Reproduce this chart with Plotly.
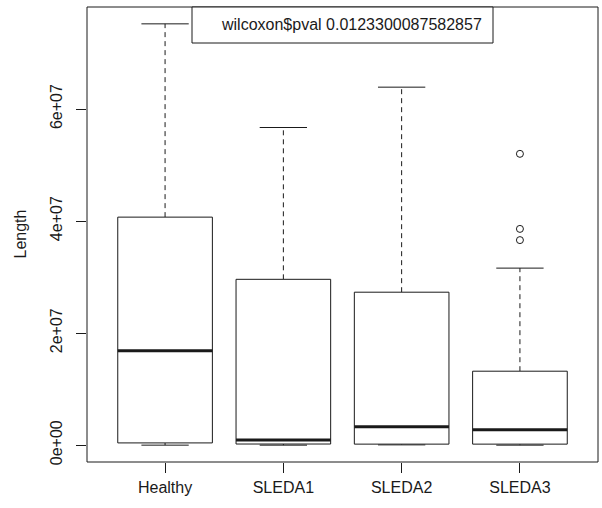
import plotly.graph_objects as go

# Summary statistics per group (Length)
categories = ["Healthy", "SLEDA1", "SLEDA2", "SLEDA3"]
lower_whisker = [0.0e6, 0.0e6, 0.05e6, 0.0e6]
q1 = [0.40e6, 0.20e6, 0.18e6, 0.18e6]
median = [16.85e6, 0.90e6, 3.27e6, 2.73e6]
q3 = [40.7e6, 29.6e6, 27.3e6, 13.2e6]
upper_whisker = [75.2e6, 56.7e6, 63.9e6, 31.6e6]
outlier_group = ["SLEDA3", "SLEDA3", "SLEDA3"]
outlier_values = [52.0e6, 38.6e6, 36.6e6]

y_tick_values = [0, 2e7, 4e7, 6e7]
y_tick_labels = ["0e+00", "2e+07", "4e+07", "6e+07"]
legend_text = "wilcoxon$pval 0.0123300087582857"

FONT = "Liberation Sans, Arial, sans-serif"
INK = "#1a1a1a"
HALF_BOX = 0.4
HALF_CAP = 0.2

fig = go.Figure()

for i, name in enumerate(categories, start=1):
    # dashed whiskers
    for a, b in ((q3[i - 1], upper_whisker[i - 1]), (q1[i - 1], lower_whisker[i - 1])):
        fig.add_trace(go.Scatter(x=[i, i], y=[a, b], mode="lines",
                                 line=dict(color=INK, width=1, dash="5px,4px"),
                                 hoverinfo="skip", showlegend=False))
    # whisker caps
    for v in (upper_whisker[i - 1], lower_whisker[i - 1]):
        fig.add_trace(go.Scatter(x=[i - HALF_CAP, i + HALF_CAP], y=[v, v], mode="lines",
                                 line=dict(color=INK, width=1),
                                 hoverinfo="skip", showlegend=False))
    # box
    fig.add_trace(go.Scatter(
        x=[i - HALF_BOX, i + HALF_BOX, i + HALF_BOX, i - HALF_BOX, i - HALF_BOX],
        y=[q1[i - 1], q1[i - 1], q3[i - 1], q3[i - 1], q1[i - 1]],
        mode="lines", line=dict(color=INK, width=1),
        fill="toself", fillcolor="white",
        name=name, showlegend=False))
    # median
    fig.add_trace(go.Scatter(x=[i - HALF_BOX, i + HALF_BOX], y=[median[i - 1]] * 2,
                             mode="lines", line=dict(color=INK, width=3),
                             hoverinfo="skip", showlegend=False))

# outliers
fig.add_trace(go.Scatter(
    x=[categories.index(g) + 1 for g in outlier_group], y=outlier_values,
    mode="markers",
    marker=dict(symbol="circle-open", size=7, color=INK, line=dict(width=1)),
    showlegend=False))

# axis limits extended by 4% like base graphics
all_vals = lower_whisker + upper_whisker + outlier_values
lo, hi = min(all_vals), max(all_vals)
pad = 0.04 * (hi - lo)
n = len(categories)
xpad = 0.04 * n

fig.update_layout(
    width=602, height=508,
    margin=dict(l=87, r=4, t=7, b=46),
    paper_bgcolor="white", plot_bgcolor="white",
    font=dict(family=FONT, size=16, color=INK),
    xaxis=dict(range=[0.5 - xpad, n + 0.5 + xpad], tickvals=list(range(1, n + 1)),
               ticktext=categories, ticks="outside", ticklen=10, tickcolor=INK,
               showgrid=False, zeroline=False, showline=False,
               ticklabelstandoff=1, tickfont=dict(size=16)),
    yaxis=dict(range=[lo - pad, hi + pad], tickvals=y_tick_values, ticktext=y_tick_labels,
               ticks="outside", ticklen=10, tickcolor=INK, tickangle=-90,
               showgrid=False, zeroline=False, showline=False,
               ticklabelstandoff=8, tickfont=dict(size=16)),
    shapes=[
        dict(type="rect", xref="paper", yref="paper", x0=0, x1=1, y0=0, y1=1,
             line=dict(color=INK, width=1)),
        dict(type="rect", xref="paper", yref="paper",
             x0=105 / 511, x1=406 / 511, y0=419 / 455, y1=1,
             line=dict(color=INK, width=1), fillcolor="white"),
    ],
    annotations=[
        dict(text=legend_text, xref="paper", yref="paper",
             x=264 / 511, y=437 / 455, xanchor="center", yanchor="middle",
             showarrow=False, font=dict(size=16)),
        dict(text="Length", xref="paper", yref="paper",
             x=-67 / 511, y=0.5, xanchor="center", yanchor="middle",
             textangle=-90, showarrow=False, font=dict(size=16)),
    ],
)

fig.write_html("out.html")
